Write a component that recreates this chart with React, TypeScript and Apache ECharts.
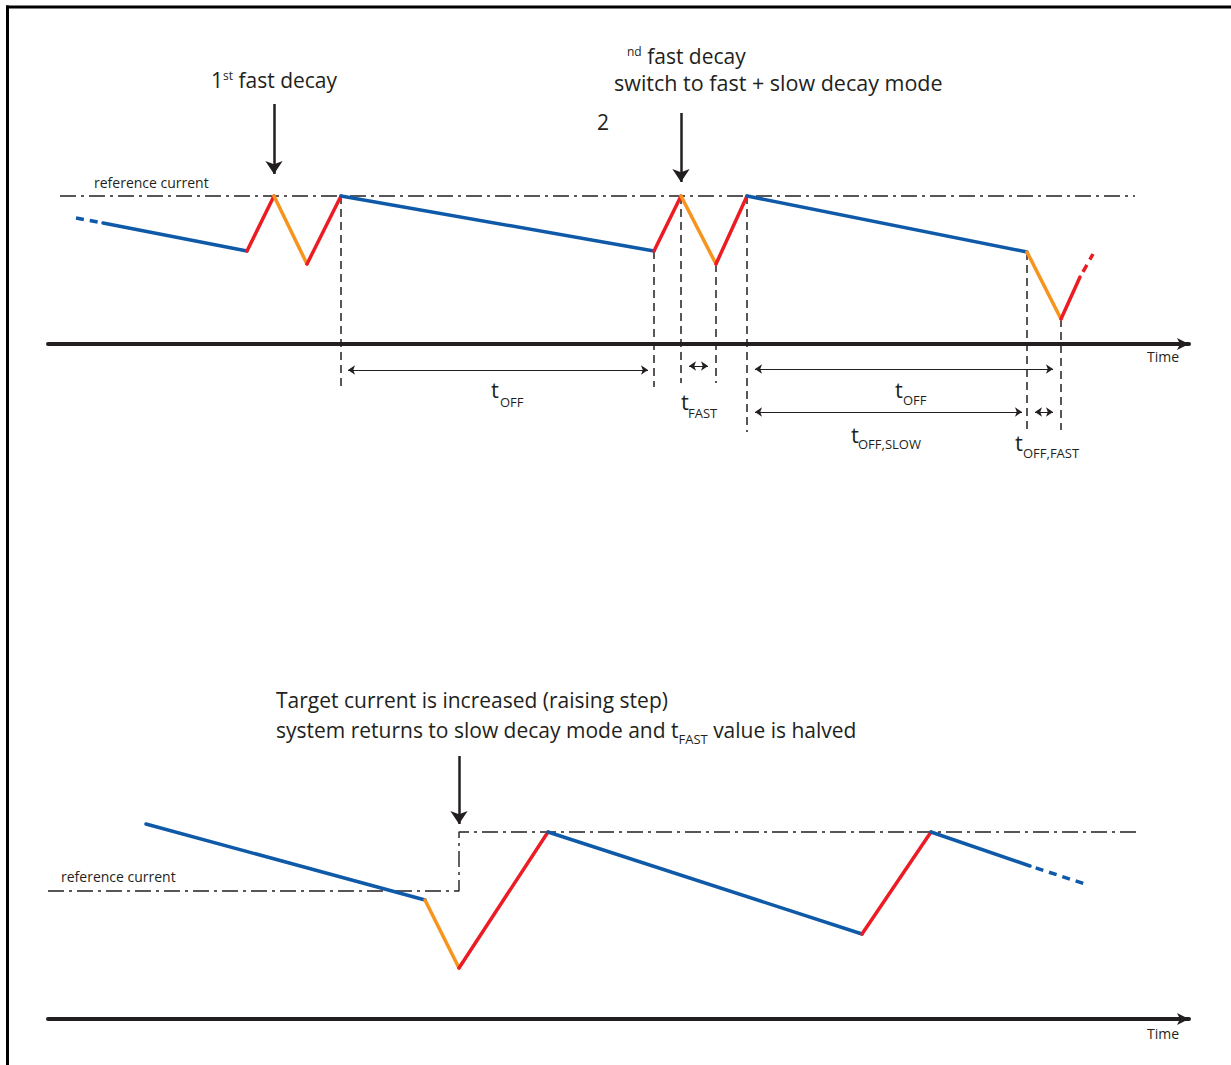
import React, { useEffect, useRef } from "react";
import * as echarts from "echarts";

const FONT = '"Open Sans", "Noto Sans", sans-serif';
const INK = "#231f20";
const BLUE = "#0f5aa8";
const RED = "#ec1c24";
const ORANGE = "#f7941d";

// ---------- top panel: time units / current units (0 = time axis) ----------
const topWaveTime = [28, 55, 199, 226, 259, 293, 606, 633, 668, 699, 979, 1013, 1032, 1045];
const topWaveCurrent = [126, 121, 93, 148, 80, 148, 93, 148, 80, 148, 92, 25, 67, 90];
const topWavePhase = ["slow-", "slow", "rise", "fast", "rise", "slow", "rise", "fast", "rise", "slow", "fast", "rise", "rise~"];
const topRefTime = [12, 1087];
const topRefCurrent = [148, 148];
const topMarkTime = [293, 606, 633, 668, 699, 979, 1013];
const topMarkFrom = [148, 93, 148, 80, 148, 92, 25];
const topMarkTo = [-43, -43, -39, -39, -88, -86, -86];
const topSpanFrom = [300, 641, 707, 707, 987];
const topSpanTo = [600, 660, 1005, 974, 1005];
const topSpanCurrent = [-26, -22, -25, -68, -68];
const topSpanSub = ["OFF", "FAST", "OFF", "OFF,SLOW", "OFF,FAST"];
const topEventTime = [226, 633];
const topEventFrom = [240, 231];
const topEventTo = [170, 162];

// ---------- bottom panel ----------
const botWaveTime = [98, 377, 411, 500, 814, 883, 982, 1037];
const botWaveCurrent = [195, 119, 51, 187, 85, 187, 153, 135];
const botWavePhase = ["slow", "fast", "rise", "slow", "rise", "slow", "slow~"];
const botRefTime = [0, 411, 411, 1092];
const botRefCurrent = [128, 128, 187, 187];
const botEventTime = [411];
const botEventFrom = [263];
const botEventTo = [195];

const AXIS_NAME = "Time";

const PHASE_COLOR: Record<string, string> = { slow: BLUE, fast: ORANGE, rise: RED };

function waveSeries(times: number[], currents: number[], phases: string[], g: number) {
  return phases.map((p, k) => {
    const lead = p.endsWith("-");
    const trail = p.endsWith("~");
    const key = lead || trail ? p.slice(0, -1) : p;
    const dashed = lead || trail;
    return {
      type: "line",
      xAxisIndex: g,
      yAxisIndex: g,
      data: [
        [times[k], currents[k]],
        [times[k + 1], currents[k + 1]],
      ],
      symbol: "none",
      silent: true,
      clip: false,
      z: 5,
      lineStyle: {
        color: PHASE_COLOR[key],
        width: 3.5,
        type: dashed ? [8, 6] : "solid",
        dashOffset: trail ? 8 : 0,
        cap: dashed ? "butt" : "round",
      },
    };
  });
}

function refSeries(times: number[], currents: number[], g: number) {
  return {
    type: "line",
    xAxisIndex: g,
    yAxisIndex: g,
    data: times.map((t, k) => [t, currents[k]]),
    symbol: "none",
    silent: true,
    clip: false,
    z: 3,
    lineStyle: { color: INK, width: 1.4, type: [16, 5, 3, 5] },
  };
}

function markSeries() {
  return topMarkTime.map((t, k) => ({
    type: "line",
    xAxisIndex: 0,
    yAxisIndex: 0,
    data: [
      [t, topMarkFrom[k]],
      [t, topMarkTo[k]],
    ],
    symbol: "none",
    silent: true,
    clip: false,
    z: 2,
    lineStyle: { color: INK, width: 1.5, type: [8, 5] },
  }));
}

function spanSeries() {
  return {
    type: "lines",
    coordinateSystem: "cartesian2d",
    xAxisIndex: 0,
    yAxisIndex: 0,
    silent: true,
    symbol: ["arrow", "arrow"],
    symbolSize: 7,
    lineStyle: { color: INK, width: 1, opacity: 1 },
    z: 4,
    data: topSpanFrom.map((f, k) => ({
      name: topSpanSub[k],
      coords: [
        [f, topSpanCurrent[k]],
        [topSpanTo[k], topSpanCurrent[k]],
      ],
    })),
  };
}

function eventSeries(times: number[], from: number[], to: number[], g: number) {
  return {
    type: "lines",
    coordinateSystem: "cartesian2d",
    xAxisIndex: g,
    yAxisIndex: g,
    silent: true,
    symbol: ["none", "arrow"],
    symbolSize: 13,
    lineStyle: { color: INK, width: 2.5, opacity: 1 },
    z: 6,
    data: times.map((t, k) => ({
      coords: [
        [t, from[k]],
        [t, to[k]],
      ],
    })),
  };
}

const txt = (x: number, y: number, text: string, size: number) => ({
  type: "text",
  x,
  y,
  silent: true,
  z: 10,
  style: {
    text,
    fontFamily: FONT,
    fontSize: size,
    lineHeight: Math.round(size * 1.05),
    fill: INK,
    align: "left",
    verticalAlign: "middle",
  },
});

const richTxt = (x: number, y: number, text: string, rich: any) => ({
  type: "text",
  x,
  y,
  silent: true,
  z: 10,
  style: { text, rich, fontFamily: FONT, fontSize: 21, fill: INK, align: "left", verticalAlign: "middle" },
});

const TOK_N = { fontFamily: FONT, fontSize: 21, fill: INK, lineHeight: 22 };
const TOK_N_TALL = { fontFamily: FONT, fontSize: 21, fill: INK, lineHeight: 30 };
const TOK_SUP = { fontFamily: FONT, fontSize: 12, fill: INK, lineHeight: 12, verticalAlign: "top" };
const TOK_SUB = { fontFamily: FONT, fontSize: 13, fill: INK, lineHeight: 6, verticalAlign: "bottom" };

// label placement for the span labels (t + subscript)
const spanLabelPos = [
  [491, 389, 500, 402],
  [681, 401, 688, 413],
  [895, 389, 903, 400],
  [851, 434, 858, 444],
  [1015, 442, 1023, 453],
];

export default function App() {
  const ref = useRef<HTMLDivElement>(null);
  useEffect(() => {
    if (!ref.current) return;
    const chart = echarts.init(ref.current, null, { renderer: "svg" });
    const xAxisBase = (g: number) => ({
      type: "value",
      gridIndex: g,
      min: 0,
      max: 1141,
      axisLine: {
        show: true,
        onZero: true,
        symbol: ["none", "arrow"],
        symbolSize: [9, 12],
        lineStyle: { color: INK, width: 4 },
      },
      axisTick: { show: false },
      axisLabel: { show: false },
      splitLine: { show: false },
    });

    const graphics: any[] = [
      {
        type: "line",
        silent: true,
        z: 0,
        shape: { x1: 7.5, y1: 5.5, x2: 7.5, y2: 1065 },
        style: { stroke: "#000", lineWidth: 3 },
      },
      {
        type: "line",
        silent: true,
        z: 0,
        shape: { x1: 6, y1: 7, x2: 1231, y2: 7 },
        style: { stroke: "#000", lineWidth: 3 },
      },
      richTxt(211, 80, "{n|1}{s|st}{n| fast decay}", { n: TOK_N, s: TOK_SUP }),
      richTxt(627, 56, "{s|nd}{n| fast decay}", { n: TOK_N, s: TOK_SUP }),
      txt(614, 82, "switch to fast + slow decay mode", 21.5),
      txt(597, 122, "2", 21),
      txt(94, 182, "reference current", 14),
      txt(1147, 356, AXIS_NAME, 14),
      txt(276, 700, "Target current is increased (raising step)", 21),
      richTxt(276, 730, "{n|system returns to slow decay mode and t}{b|FAST}{n| value is halved}", {
        n: TOK_N_TALL,
        b: TOK_SUB,
      }),
      txt(61, 876, "reference current", 14),
      txt(1147, 1033, AXIS_NAME, 14),
    ];
    topSpanSub.forEach((sub, k) => {
      const p = spanLabelPos[k];
      graphics.push(txt(p[0], p[1], "t", 22));
      graphics.push(txt(p[2], p[3], sub, 13));
    });

    const option: any = {
      animation: false,
      grid: [
        { left: 48, top: 44, width: 1141, height: 400 },
        { left: 48, top: 644, width: 1141, height: 400 },
      ],
      xAxis: [xAxisBase(0), xAxisBase(1)],
      yAxis: [
        { type: "value", gridIndex: 0, min: -100, max: 300, show: false },
        { type: "value", gridIndex: 1, min: -25, max: 375, show: false },
      ],
      series: [
        refSeries(topRefTime, topRefCurrent, 0),
        refSeries(botRefTime, botRefCurrent, 1),
        ...markSeries(),
        spanSeries(),
        ...waveSeries(topWaveTime, topWaveCurrent, topWavePhase, 0),
        ...waveSeries(botWaveTime, botWaveCurrent, botWavePhase, 1),
        eventSeries(topEventTime, topEventFrom, topEventTo, 0),
        eventSeries(botEventTime, botEventFrom, botEventTo, 1),
      ],
      graphic: graphics,
    };
    chart.setOption(option);
    return () => chart.dispose();
  }, []);
  return (
    <div
      ref={ref}
      style={{ position: "absolute", left: 0, top: 0, width: 1231, height: 1065, background: "#fff" }}
    />
  );
}
